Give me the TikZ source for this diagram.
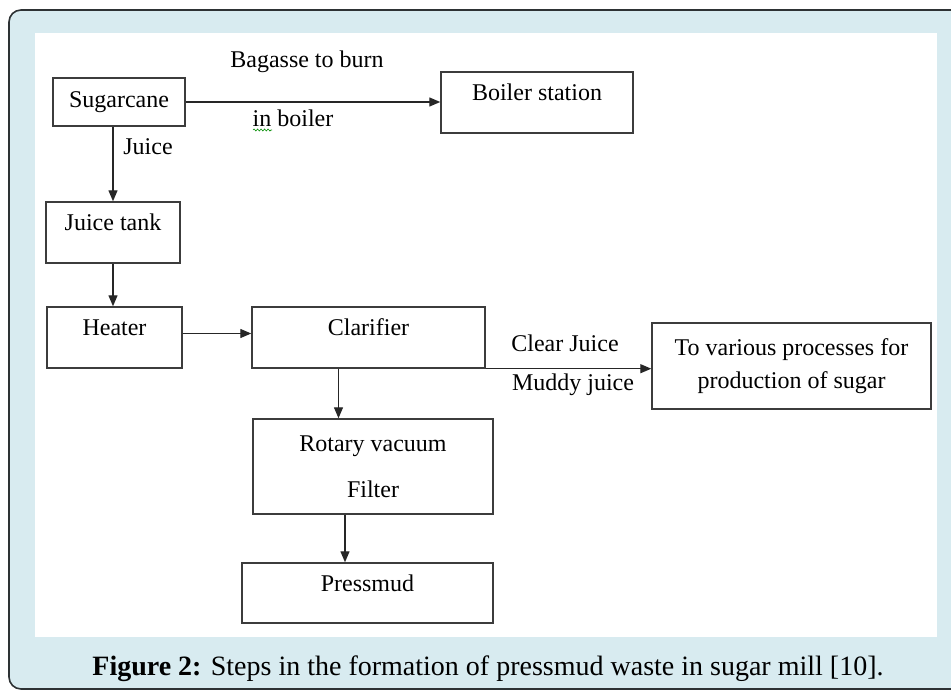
\documentclass[tikz,border=0pt]{standalone}
\usepackage{fontspec}
\setmainfont{Liberation Serif}
\usetikzlibrary{arrows.meta,calc,decorations.pathmorphing}
\definecolor{framebg}{RGB}{216,235,240}
\definecolor{framec}{RGB}{45,50,52}
\definecolor{boxc}{RGB}{60,60,60}

\begin{document}
\begin{tikzpicture}[x=1pt,y=-1pt,
  box/.style={draw=boxc, line width=1.4pt, fill=white, inner sep=0pt, font=\fontsize{24}{28}\selectfont, align=center},
  lift/.style={text height=16pt, text depth=20pt},
  lbl/.style={font=\fontsize{24}{28}\selectfont, inner sep=0pt},
  flow/.style={-{Triangle[length=11pt,width=9pt]}, line width=1.3pt, draw=black!85}]
  \useasboundingbox (0,0) rectangle (951,691);
  \clip (0,0) rectangle (951,691);
  % frame and white panel
  \draw[framec, line width=1.6pt, fill=framebg, rounded corners=12pt] (9,10) rectangle (970,689);
  \fill[white] (35,33) rectangle (937,637);

  % boxes
  \node[box, minimum width=132pt, minimum height=48pt] (sugar) at (119,102) {Sugarcane};
  \node[box, lift, minimum width=192pt, minimum height=61pt] (boiler) at (537,102.5) {Boiler station};
  \node[box, lift, minimum width=134pt, minimum height=61pt] (tank) at (113,232.5) {Juice tank};
  \node[box, lift, minimum width=135pt, minimum height=61pt] (heater) at (114.5,337.5) {Heater};
  \node[box, lift, minimum width=233pt, minimum height=61pt] (clar) at (368.5,337.5) {Clarifier};
  \node[box, minimum width=279pt, minimum height=86pt] (various) at (791.5,366) {To various processes for\\[5pt]production of sugar};
  \node[box, minimum width=240pt, minimum height=95pt] (rvf) at (373,466.5) {Rotary vacuum\\[18pt]Filter};
  \node[box, lift, minimum width=251pt, minimum height=60pt] (press) at (367.5,593) {Pressmud};

  % connectors
  \draw[flow] (sugar.east) -- (sugar.east -| boiler.west);
  \draw[flow] (sugar.south -| tank.north) -- (tank.north);
  \draw[flow] (tank.south) -- (tank.south |- heater.north);
  \draw[flow] ([yshift=4pt]heater.east) -- ([yshift=4pt]heater.east -| clar.west);
  \draw[flow] (clar.south east) -- (clar.south east -| various.west);
  \draw[flow] ([xshift=-30pt]clar.south) -- ([xshift=-30pt]clar.south |- rvf.north);
  \draw[flow] ([xshift=-28pt]rvf.south) -- ([xshift=-28pt]rvf.south |- press.north);

  % labels
  \node[lbl] (bagasse) at (307,62) {Bagasse to burn};
  \node[lbl] (inboiler) at (293,118) {in boiler};
  \draw[green!55!black, line width=0.6pt, decorate, decoration={snake, amplitude=1pt, segment length=3.5pt}] (253,130) -- (272,130);
  \node[lbl] (juice) at (148,147) {Juice};
  \node[lbl] (clear) at (565,343) {Clear Juice};
  \node[lbl] (muddy) at (573,385) {Muddy juice};

  % caption
  \node[font=\fontsize{28}{32}\selectfont, inner sep=0pt] (caption) at (488,669) {\textbf{Figure 2:} Steps in the formation of pressmud waste in sugar mill [10].};
\end{tikzpicture}
\end{document}
